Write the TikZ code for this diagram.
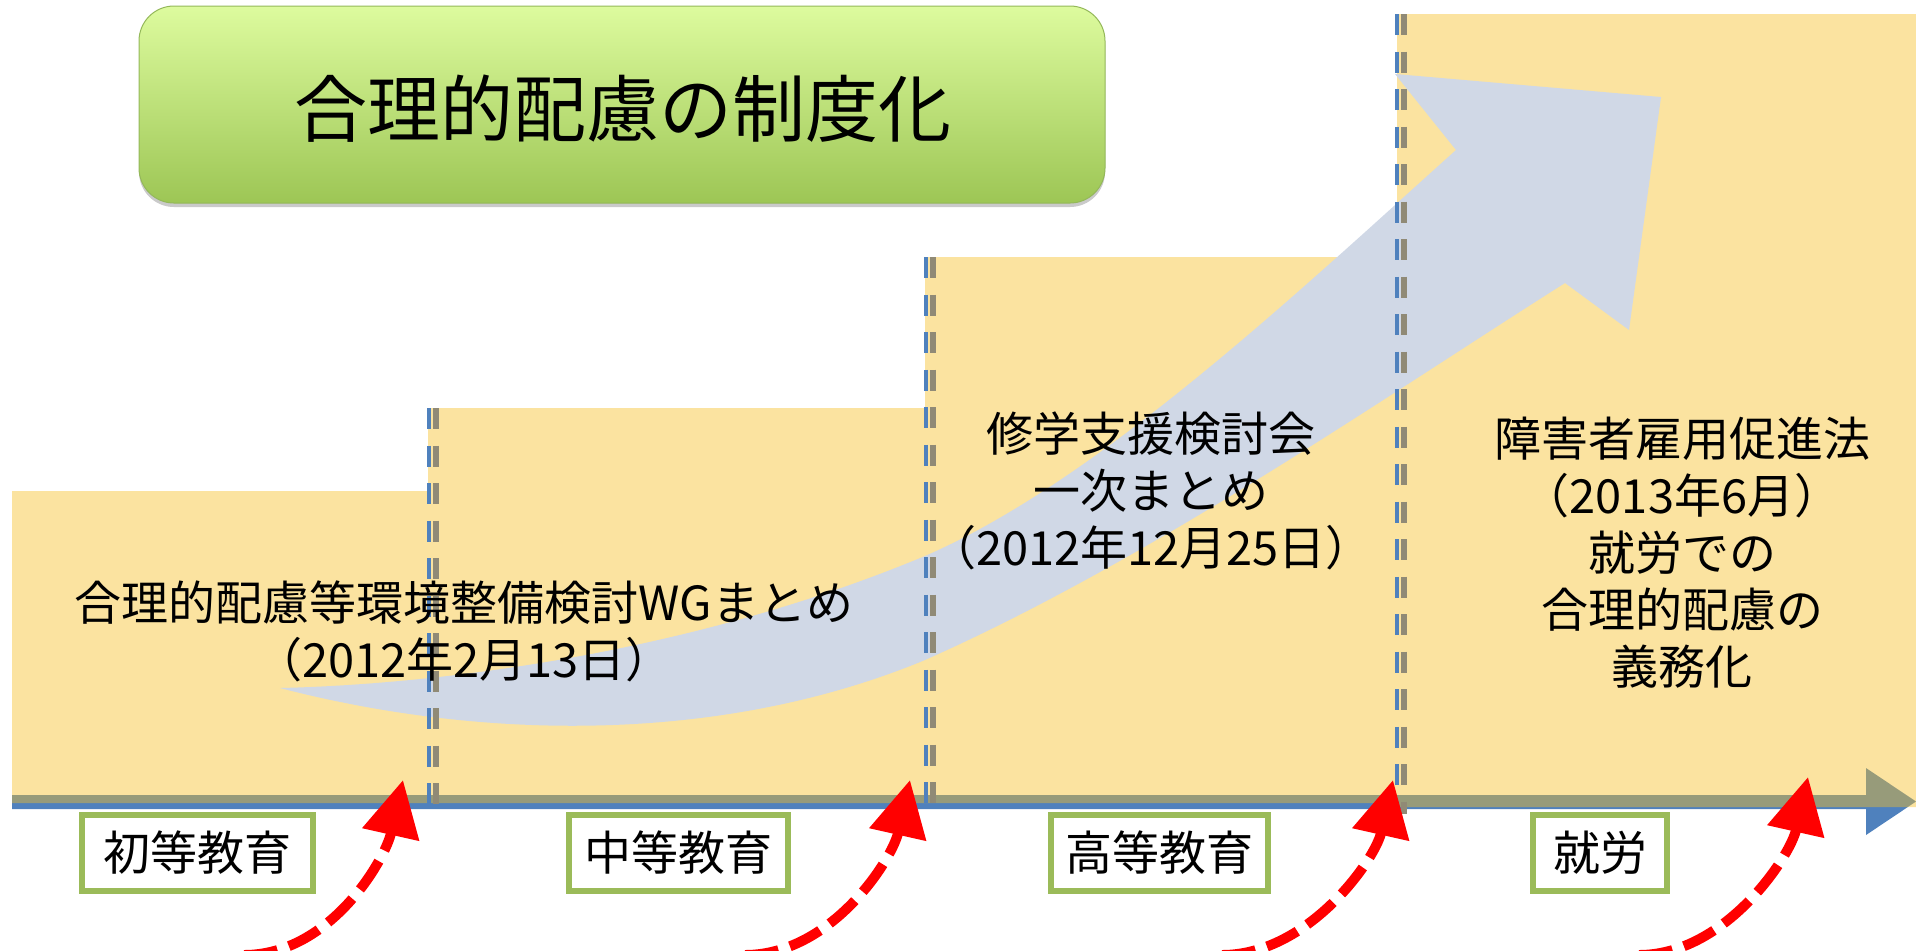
\documentclass[tikz,border=0pt]{standalone}
\usepackage{fontspec}
\setmainfont{Noto Sans CJK JP}
\usetikzlibrary{arrows.meta,shadows}
\definecolor{lineblue}{HTML}{4F81BD}
\definecolor{stepgold}{HTML}{F6BE23}
\definecolor{bigarrowc}{HTML}{D0D8E6}
\definecolor{labelgreen}{HTML}{9BBB59}
\definecolor{shadowgray}{HTML}{908A76}
\definecolor{titletop}{HTML}{DDFB9E}
\definecolor{titlebot}{HTML}{9DC655}
\definecolor{titleedge}{HTML}{94B85A}
\tikzset{
  stepfill/.style={fill=stepgold, fill opacity=0.43},
  vdash/.style={draw=lineblue, line width=2.2pt, dash pattern=on 10.5pt off 8.25pt},
  vshadow/.style={draw=shadowgray, line width=2.8pt, dash pattern=on 10.5pt off 8.25pt},
  stagebox/.style={draw=labelgreen, line width=3pt, fill=white, minimum height=38pt,
    inner xsep=0pt, font=\fontsize{23.5}{28}\selectfont},
  redarrow/.style={draw=red, line width=5pt, dash pattern=on 17pt off 6pt,
    -{Triangle[length=28pt,width=28pt]}},
  txt/.style={align=center, inner sep=0pt, font=\fontsize{23.5}{28.5}\selectfont},
  titlebox/.style={rounded corners=17.5pt, top color=titletop, bottom color=titlebot,
    draw=titleedge, line width=0.5pt, minimum width=483pt, minimum height=98.5pt,
    drop shadow={shadow xshift=0pt, shadow yshift=-2pt, fill=gray!70, opacity=0.6}},
  titletext/.style={inner sep=0pt, font=\fontsize{36.5}{40}\selectfont}
}
\begin{document}
\begin{tikzpicture}[x=0.5pt,y=-0.5pt]
\useasboundingbox (0,0) rectangle (1916,950);
\clip (0,0) rectangle (1916,950);
% timeline arrow
\fill[lineblue] (12,795) -- (1866,795) -- (1866,768) -- (1916,801.5) -- (1866,835) -- (1866,809) -- (12,809) -- cycle;
% steps
\fill[stepfill] (12,491) rectangle (428,803) (428,408) rectangle (925,803)
  (925,257) rectangle (1397,803) (1397,14) rectangle (1916,807);
% big curved arrow
\fill[bigarrowc] (280,688) .. controls (450,684) and (700,650) .. (925,556)
  .. controls (1100,480) and (1300,290) .. (1456,150) -- (1395,74) -- (1661,97)
  -- (1629,330) -- (1565,283) .. controls (1380,400) and (1150,560) .. (925,660)
  .. controls (720,745) and (480,740) .. (280,688) -- cycle;
% dashed step edges
\draw[vshadow] (436,408) -- (436,812);
\draw[vdash] (429,408) -- (429,812);
\draw[vshadow] (933,257) -- (933,812);
\draw[vdash] (926,257) -- (926,812);
\draw[vshadow] (1404,14) -- (1404,814);
\draw[vdash] (1397,14) -- (1397,814);
% texts
\node[txt] (wg) at (464,631) {合理的配慮等環境整備検討WGまとめ\\（2012年2月13日）};
\node[txt] (shugaku) at (1151,491) {修学支援検討会\\一次まとめ\\（2012年12月25日）};
\node[txt] (koyo) at (1682,553) {障害者雇用促進法\\（2013年6月）\\就労での\\合理的配慮の\\義務化};
% title
\node[titlebox] (titlebg) at (622,104.5) {};
\node[titletext] (title) at (623,109) {合理的配慮の制度化};
% stage labels
\node[stagebox, minimum width=115.5pt] (s1) at (197.5,853) {初等教育};
\node[stagebox, minimum width=109.5pt] (s2) at (678.5,853) {中等教育};
\node[stagebox, minimum width=108.5pt] (s3) at (1159.5,853) {高等教育};
\node[stagebox, minimum width=67pt] (s4) at (1600,853) {就労};
% red arrows
\coordinate (r1s) at (244,955); \coordinate (r1e) at (403,780);
\coordinate (r2s) at (745,955); \coordinate (r2e) at (910,780);
\coordinate (r3s) at (1222,955); \coordinate (r3e) at (1393,780);
\coordinate (r4s) at (1639,955); \coordinate (r4e) at (1808,777);
\draw[redarrow] (r1s) .. controls +(86,0) and +(-18,80) .. (r1e);
\draw[redarrow] (r2s) .. controls +(86,0) and +(-18,80) .. (r2e);
\draw[redarrow] (r3s) .. controls +(86,0) and +(-18,80) .. (r3e);
\draw[redarrow] (r4s) .. controls +(86,0) and +(-18,80) .. (r4e);
\end{tikzpicture}
\end{document}
